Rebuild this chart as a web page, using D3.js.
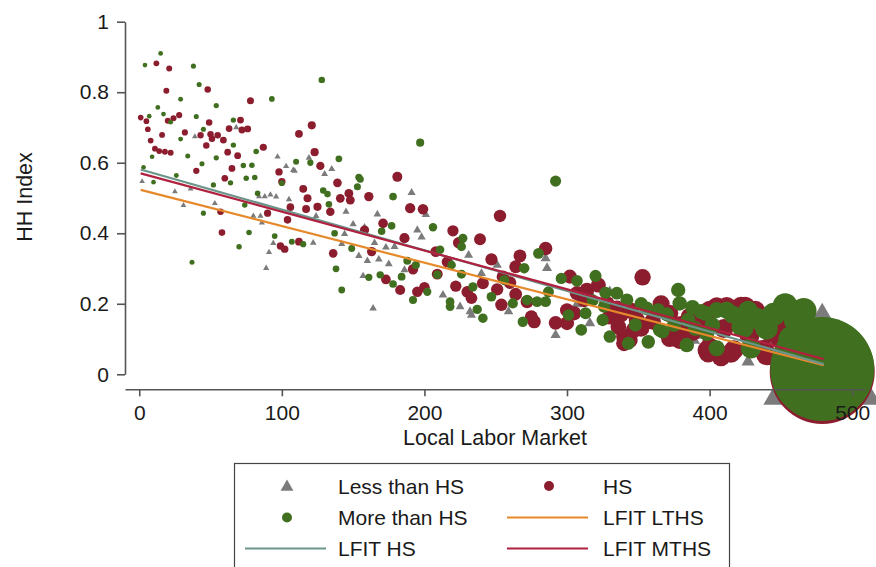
<!DOCTYPE html>
<html>
<head>
<meta charset="utf-8">
<script src="https://cdn.jsdelivr.net/npm/d3@7"></script>
<style>
body { margin: 0; background: #fff; }
svg { display: block; font-family: "Liberation Sans", Arial, Helvetica, sans-serif; }
</style>
</head>
<body>
<svg width="876" height="567"></svg>
<script>
// local labor market (x) and HH index (y)
var lessThanHS = [[2,0.547],[25,0.518],[31,0.479],[36,0.526],[39,0.674],[53,0.485],[68,0.700],[80,0.449],[84,0.504],[85,0.449],[86,0.430],[88,0.504],[89,0.301],[91,0.346],[92,0.509],[94,0.372],[96,0.504],[97,0.617],[103,0.590],[105,0.496],[108,0.579],[109,0.577],[119,0.614],[122,0.373],[124,0.449],[130,0.568],[135,0.582],[142,0.370],[144,0.398],[145,0.461],[150,0.426],[154,0.336],[157,0.279],[158,0.417],[160,0.322],[164,0.187],[165,0.373],[167,0.454],[168,0.326],[173,0.360],[175,0.313],[179,0.362],[186,0.296],[191,0.515],[195,0.409],[198,0.389],[201,0.453],[213,0.225],[225,0.192],[231,0.338],[232,0.178],[233,0.168],[240,0.286],[251,0.310],[259,0.178],[285,0.329],[286,0.301],[292,0.111],[307,0.199],[316,0.230],[316,0.145],[330,0.234],[340,0.170],[362,0.150],[389,0.097],[393,0.111],[427,0.036],[479,0.010]];

var hs = [[1,0.728],[5,0.718],[6,0.695],[8,0.663],[11,0.640],[12,0.882],[14,0.633],[16,0.679],[18,0.631],[19,0.804],[20,0.719],[21,0.867],[22,0.628],[24,0.726],[28,0.735],[32,0.686],[40,0.577],[43,0.678],[47,0.649],[48,0.808],[49,0.714],[50,0.681],[51,0.668],[55,0.678],[57,0.461],[58,0.402],[59,0.664],[60,0.556],[62,0.630],[63,0.697],[65,0.584],[69,0.620],[71,0.721],[72,0.693],[76,0.696],[78,0.776],[87,0.644],[90,0.457],[98,0.574],[99,0.364],[100,0.546],[102,0.355],[104,0.438],[106,0.474],[112,0.682],[112,0.376],[115,0.526],[117,0.469],[118,0.499],[121,0.706],[123,0.630],[125,0.475],[127,0.591],[134,0.461],[136,0.343],[139,0.543],[141,0.499],[147,0.513],[148,0.494],[158,0.409],[161,0.504],[163,0.348],[171,0.428],[173,0.269],[181,0.560],[183,0.239],[186,0.386],[190,0.471],[192,0.298],[195,0.234],[199,0.468],[200,0.247],[208,0.348],[209,0.284],[216,0.319],[220,0.407],[222,0.250],[224,0.373],[230,0.234],[233,0.216],[239,0.383],[241,0.258],[247,0.326],[251,0.241],[253,0.449],[254,0.197],[255,0.277],[260,0.260],[264,0.305],[264,0.227],[267,0.336],[272,0.206],[275,0.163],[277,0.149],[285,0.357],[292,0.146],[300,0.145],[300,0.182],[302,0.277],[305,0.173],[307,0.230],[312,0.211],[314,0.239],[322,0.253],[328,0.200],[330,0.163],[335,0.187],[336,0.135],[338,0.170],[340,0.107],[340,0.088],[344,0.097],[345,0.180],[347,0.126],[349,0.154],[352,0.130],[353,0.275],[360,0.150],[366,0.200],[372,0.173],[372,0.102],[375,0.107],[379,0.097],[380,0.140],[386,0.163],[388,0.120],[393,0.150],[398,0.069],[399,0.060],[400,0.182],[400,0.078],[405,0.192],[408,0.050],[410,0.130],[412,0.192],[415,0.060],[417,0.069],[418,0.160],[422,0.192],[425,0.192],[428,0.110],[432,0.180],[438,0.069],[440,0.055],[443,0.120],[447,0.145],[450,0.100],[458,0.140],[463,0.120],[479,0.008]];

var moreThanHS = [[3,0.587],[4,0.877],[7,0.732],[9,0.617],[10,0.545],[13,0.757],[15,0.910],[17,0.738],[22,0.715],[26,0.564],[29,0.780],[29,0.667],[34,0.619],[37,0.318],[38,0.874],[40,0.731],[42,0.822],[44,0.597],[45,0.695],[45,0.457],[52,0.537],[54,0.762],[54,0.614],[64,0.543],[66,0.721],[66,0.650],[70,0.362],[73,0.592],[74,0.480],[75,0.556],[77,0.402],[79,0.593],[81,0.558],[82,0.632],[83,0.513],[93,0.781],[95,0.392],[100,0.542],[107,0.376],[110,0.603],[115,0.369],[120,0.600],[128,0.835],[129,0.521],[132,0.511],[133,0.482],[137,0.400],[138,0.299],[140,0.611],[142,0.239],[149,0.357],[153,0.532],[154,0.559],[155,0.553],[161,0.275],[169,0.282],[170,0.406],[177,0.421],[178,0.504],[178,0.256],[184,0.277],[188,0.322],[192,0.211],[194,0.310],[197,0.657],[202,0.234],[206,0.417],[209,0.282],[211,0.353],[218,0.206],[218,0.192],[219,0.310],[226,0.362],[226,0.284],[227,0.386],[234,0.248],[237,0.184],[241,0.159],[247,0.220],[256,0.267],[262,0.201],[269,0.149],[270,0.301],[272,0.211],[279,0.206],[280,0.343],[285,0.206],[287,0.234],[292,0.548],[296,0.272],[301,0.168],[307,0.265],[310,0.126],[313,0.173],[318,0.210],[320,0.279],[325,0.154],[326,0.192],[327,0.231],[330,0.107],[335,0.230],[342,0.211],[343,0.088],[348,0.140],[352,0.200],[356,0.187],[357,0.092],[364,0.182],[365,0.126],[367,0.121],[370,0.170],[375,0.140],[378,0.239],[379,0.201],[384,0.083],[385,0.154],[388,0.190],[390,0.130],[394,0.178],[397,0.173],[398,0.116],[402,0.140],[405,0.074],[405,0.182],[412,0.182],[416,0.170],[422,0.135],[424,0.130],[427,0.180],[429,0.074],[433,0.159],[436,0.154],[440,0.130],[445,0.170],[453,0.195],[457,0.100],[461,0.154],[466,0.180],[468,0.130],[479,0.015]];

// linear fit end points
var fitLTHS = [[1,0.523],[480,0.026]];
var fitHS = [[1,0.581],[480,0.029]];
var fitMTHS = [[1,0.570],[480,0.043]];

var xTicks = [0,100,200,300,400,500];
var yTicks = [0,0.2,0.4,0.6,0.8,1];
var legendLabels = ["Less than HS","HS","More than HS","LFIT LTHS","LFIT HS","LFIT MTHS"];

var grey = "#7b7b7b", maroon = "#8c1d2e", green = "#40701f";
var orange = "#e6892b", teal = "#6b958a", crimson = "#b0213f";

var svg = d3.select("svg");
var x = d3.scaleLinear().domain([-10, 509]).range([125, 865]);
var y = d3.scaleLinear().domain([0, 1]).range([374.3, 21.7]);

// marker sizes grow with market size
var rMaroon = d3.scaleLinear().domain([0,100,200,300,400,450,470,479]).range([2.8,3.7,5.3,7,9.3,10.5,11,52.5]);
var rGreen = d3.scaleLinear().domain([0,100,200,300,400,455,470,479]).range([2.3,2.9,4.1,5.7,7.6,12.5,13,52]);
var tGrey = d3.scaleLinear().domain([0,100,200,300,430,470,479]).range([1.6,1.8,2.4,3,3.8,4,34]);

var plot = svg.append("g");

plot.selectAll(".lths")
  .data(lessThanHS)
  .enter().append("path")
  .attr("class", "lths")
  .attr("fill", grey)
  .attr("transform", function (d) { return "translate(" + x(d[0]) + "," + y(d[1]) + ")"; })
  .attr("d", function (d) {
    var t = tGrey(d[0]);
    return d3.symbol().type(d3.symbolTriangle).size(3 * Math.sqrt(3) * t * t)();
  });

plot.selectAll(".hs")
  .data(hs)
  .enter().append("circle")
  .attr("class", "hs")
  .attr("fill", maroon)
  .attr("cx", function (d) { return x(d[0]); })
  .attr("cy", function (d) { return y(d[1]); })
  .attr("r", function (d) { return rMaroon(d[0]); });

plot.selectAll(".mths")
  .data(moreThanHS)
  .enter().append("circle")
  .attr("class", "mths")
  .attr("fill", green)
  .attr("cx", function (d) { return x(d[0]); })
  .attr("cy", function (d) { return y(d[1]); })
  .attr("r", function (d) { return rGreen(d[0]); });

// axes
var axisColor = "#555";
var xAxis = svg.append("g")
  .attr("transform", "translate(0,389.3)")
  .call(d3.axisBottom(x).tickValues(xTicks).tickSize(7).tickSizeOuter(0).tickPadding(9).tickFormat(d3.format("d")));
var yAxis = svg.append("g")
  .attr("transform", "translate(125,0)")
  .call(d3.axisLeft(y).tickValues(yTicks).tickSize(8).tickSizeOuter(0).tickPadding(8).tickFormat(function (d) { return d === 0 || d === 1 ? d : d.toFixed(1); }));

[xAxis, yAxis].forEach(function (a) {
  a.select(".domain").attr("stroke", axisColor).attr("stroke-width", 1.6);
  a.selectAll(".tick line").attr("stroke", axisColor).attr("stroke-width", 1.6);
  a.selectAll(".tick text").attr("fill", "#1a1a1a").attr("font-size", 21).attr("font-family", null);
});

var line = d3.line()
  .x(function (d) { return x(d[0]); })
  .y(function (d) { return y(d[1]); });

[[fitLTHS, orange], [fitHS, teal], [fitMTHS, crimson]].forEach(function (f) {
  svg.append("path")
    .attr("d", line(f[0]))
    .attr("fill", "none")
    .attr("stroke", f[1])
    .attr("stroke-width", 2.2);
});

svg.append("text")
  .attr("x", 495)
  .attr("y", 445)
  .attr("text-anchor", "middle")
  .attr("font-size", 21.5)
  .attr("fill", "#1a1a1a")
  .text("Local Labor Market");

svg.append("text")
  .attr("transform", "translate(32,197) rotate(-90)")
  .attr("text-anchor", "middle")
  .attr("font-size", 21.5)
  .attr("fill", "#1a1a1a")
  .text("HH Index");

// legend
var legend = svg.append("g");
legend.append("rect")
  .attr("x", 234.5).attr("y", 463.5)
  .attr("width", 495).attr("height", 130)
  .attr("fill", "#fff")
  .attr("stroke", "#444")
  .attr("stroke-width", 1.2);

var cols = [287, 549], textCols = [338, 603], rows = [486, 517.5, 548.5];
var keys = [
  { kind: "triangle", color: grey },
  { kind: "circle", color: maroon },
  { kind: "circle", color: green },
  { kind: "line", color: orange },
  { kind: "line", color: teal },
  { kind: "line", color: crimson }
];

legendLabels.forEach(function (label, i) {
  var cx = cols[i % 2], cy = rows[Math.floor(i / 2)], k = keys[i];
  if (k.kind === "triangle") {
    legend.append("path")
      .attr("transform", "translate(" + cx + "," + (cy + 1) + ")")
      .attr("d", d3.symbol().type(d3.symbolTriangle).size(3 * Math.sqrt(3) * 3.7 * 3.7)())
      .attr("fill", k.color);
  } else if (k.kind === "circle") {
    legend.append("circle")
      .attr("cx", cx).attr("cy", cy).attr("r", 5)
      .attr("fill", k.color);
  } else {
    legend.append("line")
      .attr("x1", cx - 42).attr("x2", cx + 39)
      .attr("y1", cy).attr("y2", cy)
      .attr("stroke", k.color)
      .attr("stroke-width", 2);
  }
  legend.append("text")
    .attr("x", textCols[i % 2])
    .attr("y", cy + 7.5)
    .attr("font-size", 21)
    .attr("fill", "#1a1a1a")
    .text(label);
});
</script>
</body>
</html>
